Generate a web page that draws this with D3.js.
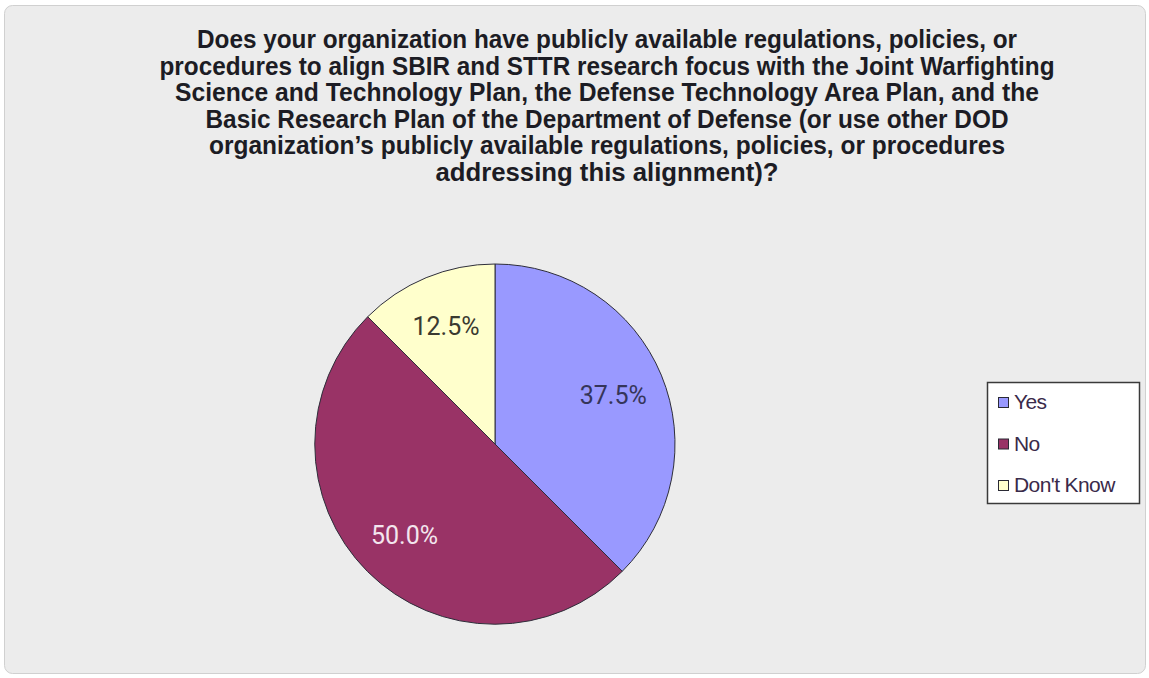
<!DOCTYPE html>
<html>
<head>
<meta charset="utf-8">
<script src="https://cdn.jsdelivr.net/npm/d3@7"></script>
<style>
  html, body { margin: 0; padding: 0; background: #ffffff; }
  svg { display: block; }
</style>
</head>
<body>
<svg id="chart" width="1149" height="678"></svg>
<script>
// Survey responses
const categories = ["Yes", "No", "Don't Know"];
const values = [37.5, 50.0, 12.5];
const valueLabels = ["37.5%", "50.0%", "12.5%"];
const colors = ["#9999ff", "#993366", "#ffffcc"];
const labelColors = ["#35355a", "#f3e6ee", "#3a3a30"];

const titleLines = [
  "Does your organization have publicly available regulations, policies, or",
  "procedures to align SBIR and STTR research focus with the Joint Warfighting",
  "Science and Technology Plan, the Defense Technology Area Plan, and the",
  "Basic Research Plan of the Department of Defense (or use other DOD",
  "organization\u2019s publicly available regulations, policies, or procedures",
  "addressing this alignment)?"
];
const titleWidths = [820, 895, 864, 803, 796, 343];

const svg = d3.select("#chart");

// chart area background
svg.append("rect")
  .attr("x", 4.5).attr("y", 5.5)
  .attr("width", 1141).attr("height", 668)
  .attr("rx", 8)
  .attr("fill", "#ececec")
  .attr("stroke", "#d0d0d0")
  .attr("stroke-width", 1);

// title
const title = svg.append("g")
  .attr("font-family", "'Liberation Sans', Arial, sans-serif")
  .attr("font-weight", "bold")
  .attr("font-size", 25)
  .attr("fill", "#1c1c24")
  .attr("text-anchor", "middle");

title.selectAll("text")
  .data(titleLines)
  .join("text")
  .attr("x", 607)
  .attr("y", (d, i) => 48 + i * 26.6)
  .attr("textLength", (d, i) => titleWidths[i])
  .attr("lengthAdjust", "spacingAndGlyphs")
  .text(d => d);

// pie
const cx = 495, cy = 444, radius = 180;
const pie = d3.pie().sort(null).value(d => d.value);
const slices = pie(categories.map((c, i) => ({ name: c, value: values[i], i })));

const arc = d3.arc().innerRadius(0).outerRadius(radius);
const labelArc = d3.arc().innerRadius(128).outerRadius(128);

const g = svg.append("g").attr("transform", `translate(${cx},${cy})`);

g.selectAll("path")
  .data(slices)
  .join("path")
  .attr("d", arc)
  .attr("fill", d => colors[d.data.i])
  .attr("stroke", "#2e2e3a")
  .attr("stroke-width", 1);

g.selectAll("text")
  .data(slices)
  .join("text")
  .attr("transform", d => `translate(${labelArc.centroid(d)})`)
  .attr("dy", "0.36em")
  .attr("text-anchor", "middle")
  .attr("font-family", "Roboto, 'Liberation Sans', Arial, sans-serif")
  .attr("font-size", 25)
  .attr("fill", d => labelColors[d.data.i])
  .text(d => valueLabels[d.data.i]);

// legend
const legend = svg.append("g");
legend.append("rect")
  .attr("x", 987.5).attr("y", 382.5)
  .attr("width", 152).attr("height", 121)
  .attr("fill", "#ffffff")
  .attr("stroke", "#3a3a3a")
  .attr("stroke-width", 1.5);

const item = legend.selectAll("g.item")
  .data(categories)
  .join("g")
  .attr("class", "item")
  .attr("transform", (d, i) => `translate(998, ${402 + i * 41.5})`);

item.append("rect")
  .attr("x", 0.5).attr("y", -4.5)
  .attr("width", 10).attr("height", 10)
  .attr("fill", (d, i) => colors[i])
  .attr("stroke", "#2a2a35")
  .attr("stroke-width", 1);

item.append("text")
  .attr("x", 16)
  .attr("y", 7)
  .attr("font-family", "'Liberation Sans', Arial, sans-serif")
  .attr("font-size", 21)
  .attr("letter-spacing", -0.6)
  .attr("fill", "#3a2a4a")
  .text(d => d);
</script>
</body>
</html>
